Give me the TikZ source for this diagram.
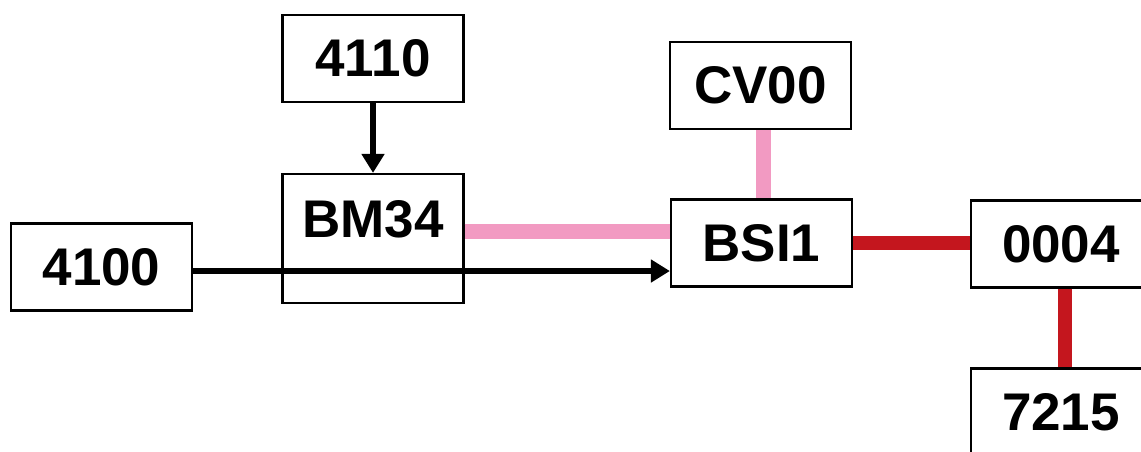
\documentclass[tikz,border=0pt]{standalone}
\usepackage{fontspec}
\setmainfont{Liberation Sans}
\usetikzlibrary{arrows.meta}
\definecolor{pinkline}{RGB}{242,154,194}
\definecolor{redline}{RGB}{196,22,30}
\begin{document}
\begin{tikzpicture}[x=1pt,y=-1pt,
  box/.style={draw=black, line width=2.2pt, fill=white, minimum width=181pt, minimum height=87pt, inner sep=0pt, font=\fontsize{53}{60}\selectfont\bfseries},
  lbl/.style={inner sep=0pt, font=\fontsize{53}{60}\selectfont\bfseries},
  arr/.style={line width=6pt, -{Triangle[length=19pt,width=22pt]}},
  pinkc/.style={line width=15pt, pinkline},
  redc/.style={line width=14pt, redline}]
\useasboundingbox (0,0) rectangle (1141,451);
\begin{scope}
\clip (0,0) rectangle (1141,451);
\node[box] (a4110) at (373,58.5) {4110};
\node[box, minimum height=129pt] (bm34) at (373,238.5) {};
\node[lbl] (bm34t) at (373,219) {BM34};
\node[box] (a4100) at (101.5,267) {4100};
\node[box] (cv00) at (760.5,85.5) {CV00};
\node[box] (bsi1) at (761.5,243) {BSI1};
\node[box, minimum width=180pt] (a0004) at (1061,244) {0004};
\node[box, minimum width=180pt] (a7215) at (1061,412) {7215};
\draw[arr] (a4110.south) -- (bm34.north);
\draw[arr] ([yshift=-4pt]a4100.east) -- ([yshift=-4pt]a4100.east -| bsi1.west);
\draw[pinkc] ([yshift=7pt]bm34.east) -- ([yshift=7pt]bm34.east -| bsi1.west);
\draw[pinkc] ([xshift=2.5pt]cv00.south) -- ([xshift=2.5pt]cv00.south |- bsi1.north);
\draw[redc] (bsi1.east) -- (bsi1.east -| a0004.west);
\draw[redc] ([xshift=4pt]a0004.south) -- ([xshift=4pt]a0004.south |- a7215.north);
\end{scope}
\end{tikzpicture}
\end{document}
